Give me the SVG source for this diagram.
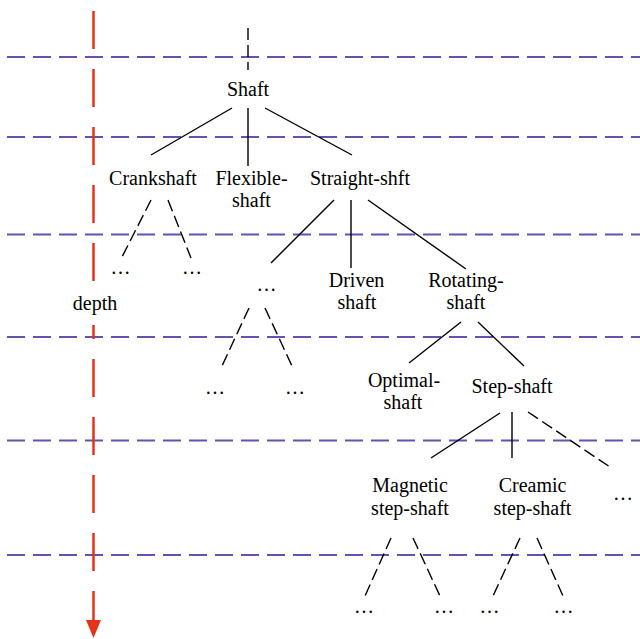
<svg xmlns="http://www.w3.org/2000/svg" width="640" height="639" viewBox="0 0 640 639">
<style>
text{font-family:"Liberation Serif","Times New Roman",serif;font-size:20px;fill:#000;text-anchor:middle}
.lvl{stroke:#6650b0;stroke-width:1.8;stroke-dasharray:18 8;fill:none}
.e{stroke:#000;stroke-width:1.4;fill:none}
.d{stroke:#000;stroke-width:1.4;fill:none;stroke-dasharray:12 5}
.depth{stroke:#e5331b;stroke-width:2.5;fill:none;stroke-dasharray:38 20}
</style>
<defs>
<marker id="ah" markerUnits="userSpaceOnUse" markerWidth="20" markerHeight="18" refX="0" refY="0" orient="auto" viewBox="0 -9 20 18">
<path d="M0,-7.5 L18,0 L0,7.5 Z" fill="#e5331b"/>
</marker>
</defs>
<g id="levels">
<line class="lvl" x1="7" y1="57" x2="640" y2="57"/>
<line class="lvl" x1="7" y1="137" x2="640" y2="137"/>
<line class="lvl" x1="7" y1="234.5" x2="640" y2="234.5"/>
<line class="lvl" x1="7" y1="337" x2="640" y2="337"/>
<line class="lvl" x1="7" y1="440.5" x2="640" y2="440.5"/>
<line class="lvl" x1="7" y1="555" x2="640" y2="555"/>
</g>
<g id="depth-axis">
<line class="depth" x1="93.5" y1="11" x2="93.5" y2="281"/>
<line class="depth" x1="93.5" y1="325" x2="93.5" y2="620" stroke-dashoffset="24" marker-end="url(#ah)"/>
<text x="95" y="310">depth</text>
</g>
<g id="connectors">
<line class="d" x1="248" y1="28" x2="248" y2="70"/>
<line class="e" x1="232" y1="108" x2="151" y2="155"/>
<line class="e" x1="248" y1="108" x2="248" y2="166"/>
<line class="e" x1="265" y1="108" x2="352" y2="155"/>
<line class="d" x1="151" y1="200" x2="122" y2="257"/>
<line class="d" x1="168" y1="200" x2="191" y2="258"/>
<line class="e" x1="334" y1="200" x2="271" y2="263"/>
<line class="e" x1="351" y1="200" x2="351" y2="268"/>
<line class="e" x1="368" y1="200" x2="466" y2="269"/>
<line class="d" x1="249" y1="308" x2="222" y2="366"/>
<line class="d" x1="265" y1="308" x2="292" y2="366"/>
<line class="e" x1="461" y1="322" x2="409" y2="363"/>
<line class="e" x1="478" y1="322" x2="524" y2="366"/>
<line class="e" x1="500" y1="413" x2="431" y2="458"/>
<line class="e" x1="512" y1="412" x2="512" y2="458"/>
<line class="d" x1="528" y1="412" x2="610" y2="467"/>
<line class="d" x1="391" y1="538" x2="365" y2="596"/>
<line class="d" x1="413" y1="538" x2="440" y2="596"/>
<line class="d" x1="520" y1="538" x2="493" y2="596"/>
<line class="d" x1="537" y1="538" x2="563" y2="596"/>
</g>
<g id="shaft"><text x="248" y="96">Shaft</text></g>
<g id="crankshaft"><text x="153" y="185">Crankshaft</text></g>
<g id="flexible-shaft"><text x="251.5" y="185">Flexible-</text><text x="251.5" y="207">shaft</text></g>
<g id="straight-shft"><text x="360" y="185">Straight-shft</text></g>
<g id="driven-shaft"><text x="356.5" y="287">Driven</text><text x="357" y="309">shaft</text></g>
<g id="rotating-shaft"><text x="466" y="287">Rotating-</text><text x="466" y="309">shaft</text></g>
<g id="optimal-shaft"><text x="404" y="387">Optimal-</text><text x="403" y="409">shaft</text></g>
<g id="step-shaft"><text x="512" y="393">Step-shaft</text></g>
<g id="magnetic-step-shaft"><text x="410" y="492">Magnetic</text><text x="410" y="515">step-shaft</text></g>
<g id="creamic-step-shaft"><text x="532.5" y="492">Creamic</text><text x="532.5" y="515">step-shaft</text></g>
<g id="crank-more-1"><text x="120.5" y="274">…</text></g>
<g id="crank-more-2"><text x="192" y="274">…</text></g>
<g id="straight-more"><text x="266.5" y="291">…</text></g>
<g id="straight-more-1"><text x="215" y="394">…</text></g>
<g id="straight-more-2"><text x="295" y="394">…</text></g>
<g id="step-more"><text x="623" y="500">…</text></g>
<g id="magnetic-more-1"><text x="364" y="613">…</text></g>
<g id="magnetic-more-2"><text x="444" y="613">…</text></g>
<g id="creamic-more-1"><text x="489.5" y="613">…</text></g>
<g id="creamic-more-2"><text x="563.5" y="613">…</text></g>
</svg>
